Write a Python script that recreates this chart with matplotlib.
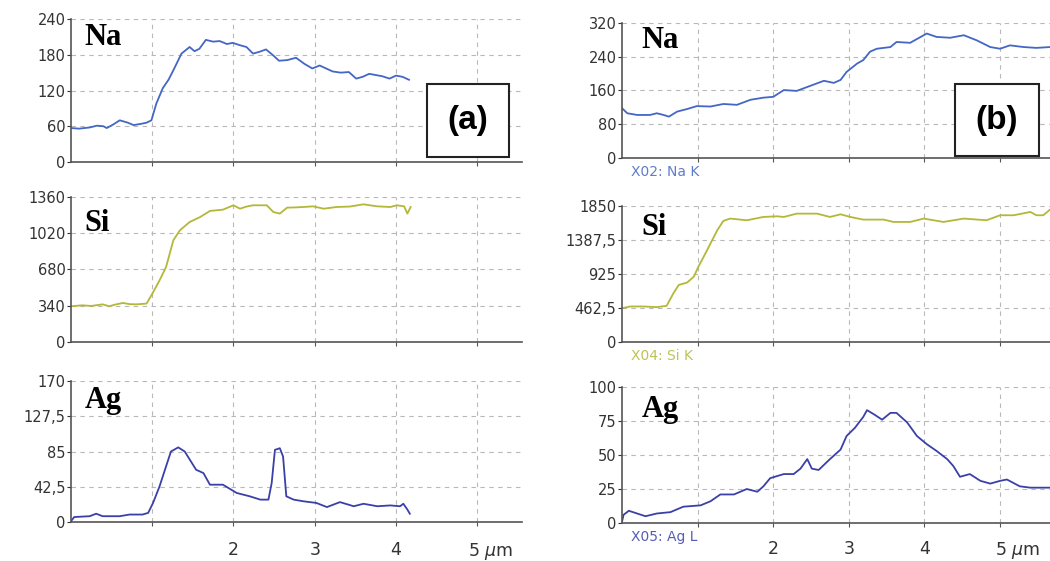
import matplotlib.pyplot as plt
import matplotlib.transforms as mtransforms

# ---- data ----
na_a_x = [0, 0.10, 0.23, 0.32, 0.40, 0.44, 0.52, 0.60, 0.70, 0.77, 0.86, 0.93, 0.99, 1.05, 1.13,
          1.20, 1.26, 1.36, 1.46, 1.52, 1.58, 1.66, 1.75, 1.83, 1.92, 1.99, 2.08, 2.16, 2.24, 2.32,
          2.40, 2.48, 2.56, 2.66, 2.77, 2.87, 2.97, 3.06, 3.14, 3.22, 3.32, 3.42, 3.51, 3.59, 3.67,
          3.75, 3.83, 3.92, 4.0, 4.08, 4.16]
na_a_y = [57, 56, 58, 61, 60, 57, 63, 70, 66, 62, 64, 66, 70, 98, 124,
          138, 154, 182, 193, 186, 190, 205, 202, 203, 198, 200, 196, 193, 182, 185,
          189, 180, 170, 171, 175, 165, 157, 162, 157, 152, 150, 151, 140, 143, 148,
          146, 144, 140, 145, 143, 138]

si_a_x = [0, 0.14, 0.25, 0.39, 0.47, 0.55, 0.64, 0.72, 0.80, 0.93, 0.99, 1.09, 1.17, 1.26, 1.34,
          1.46, 1.59, 1.71, 1.87, 2.0, 2.08, 2.16, 2.24, 2.41, 2.49, 2.57, 2.66, 2.76, 2.86, 2.98,
          3.11, 3.27, 3.43, 3.60, 3.77, 3.93, 4.01, 4.10, 4.14, 4.18]
si_a_y = [335, 344, 338, 353, 335, 352, 366, 355, 353, 360, 438, 578, 703, 954, 1047,
          1125, 1172, 1229, 1241, 1282, 1250, 1270, 1282, 1282, 1219, 1204, 1260, 1262, 1266, 1272,
          1250, 1266, 1270, 1291, 1272, 1266, 1282, 1272, 1204, 1266]

ag_a_x = [0, 0.04, 0.23, 0.31, 0.39, 0.60, 0.72, 0.88, 0.95, 1.01, 1.09, 1.17, 1.23, 1.32, 1.40,
          1.54, 1.63, 1.71, 1.87, 2.04, 2.20, 2.33, 2.43, 2.47, 2.51, 2.57, 2.61, 2.65, 2.74, 2.86,
          3.02, 3.15, 3.31, 3.48, 3.60, 3.77, 3.93, 4.05, 4.09, 4.14, 4.17]
ag_a_y = [1, 6, 7, 10, 7, 7, 9, 9, 11, 23, 43, 67, 85, 90, 85,
          63, 59, 45, 45, 35, 31, 27, 27, 47, 87, 89, 79, 31, 27, 25,
          23, 18, 24, 19, 22, 19, 20, 19, 22, 15, 10]

na_b_x = [0, 0.07, 0.20, 0.37, 0.46, 0.55, 0.62, 0.73, 0.86, 0.99, 1.17, 1.34, 1.52, 1.70, 1.87,
          2.0, 2.14, 2.31, 2.49, 2.67, 2.80, 2.89, 2.97, 3.11, 3.19, 3.28, 3.37, 3.55, 3.63, 3.81,
          4.03, 4.16, 4.34, 4.52, 4.69, 4.87, 5.0, 5.13, 5.31, 5.48, 5.66]
na_b_y = [118, 106, 102, 102, 106, 102, 98, 110, 116, 123, 122, 128, 126, 138, 143,
          145, 161, 159, 171, 183, 178, 185, 204, 224, 232, 252, 259, 263, 275, 273,
          295, 287, 285, 291, 279, 263, 259, 267, 263, 261, 263]

si_b_x = [0, 0.11, 0.29, 0.46, 0.59, 0.68, 0.75, 0.86, 0.95, 1.01, 1.08, 1.17, 1.26, 1.34, 1.43,
          1.65, 1.87, 2.05, 2.14, 2.31, 2.58, 2.75, 2.89, 3.02, 3.19, 3.46, 3.59, 3.81, 3.99, 4.25,
          4.52, 4.82, 5.0, 5.18, 5.40, 5.48, 5.57, 5.66]
si_b_y = [460, 483, 483, 474, 492, 663, 776, 808, 889, 1024, 1160, 1340, 1521, 1647, 1679,
          1656, 1701, 1710, 1701, 1746, 1746, 1701, 1737, 1701, 1665, 1665, 1633, 1633, 1679, 1633,
          1679, 1656, 1724, 1724, 1769, 1724, 1724, 1800]

ag_b_x = [0, 0.02, 0.09, 0.20, 0.31, 0.46, 0.64, 0.81, 1.04, 1.17, 1.30, 1.48, 1.65, 1.79, 1.87,
          1.96, 2.14, 2.27, 2.36, 2.45, 2.51, 2.60, 2.75, 2.89, 2.97, 3.08, 3.19, 3.24, 3.33, 3.44,
          3.55, 3.63, 3.77, 3.90, 4.03, 4.16, 4.30, 4.38, 4.47, 4.60, 4.74, 4.87, 5.0, 5.09, 5.26,
          5.40, 5.53, 5.66]
ag_b_y = [1, 6, 9, 7, 5, 7, 8, 12, 13, 16, 21, 21, 25, 23, 27,
          33, 36, 36, 40, 47, 40, 39, 47, 54, 64, 70, 78, 83, 80, 76,
          81, 81, 74, 64, 58, 53, 47, 42, 34, 36, 31, 29, 31, 32, 27,
          26, 26, 26]

left_ticks = [(0, 60, 120, 180, 240), (0, 340, 680, 1020, 1360), (0, 42.5, 85, 127.5, 170)]
left_ticklabels = [["0", "60", "120", "180", "240"], ["0", "340", "680", "1020", "1360"],
                   ["0", "42,5", "85", "127,5", "170"]]
right_ticks = [(0, 80, 160, 240, 320), (0, 462.5, 925, 1387.5, 1850), (0, 25, 50, 75, 100)]
right_ticklabels = [["0", "80", "160", "240", "320"], ["0", "462,5", "925", "1387,5", "1850"],
                    ["0", "25", "50", "75", "100"]]
elements = ["Na", "Si", "Ag"]
xticks = [1, 2, 3, 4, 5]
xticklabels = ["", "2", "3", "4", "5 $\\mu$m"]
spectral_lines = ["X02: Na K", "X04: Si K", "X05: Ag L"]

NA_BLUE = "#4466c4"
SI_YELLOW = "#b3b838"
AG_BLUE = "#3a40a8"
colors = [NA_BLUE, SI_YELLOW, AG_BLUE]

fig = plt.figure(figsize=(10.5, 5.61), dpi=100)

left_rects = [(0.0676, 0.7112, 0.4295, 0.2549),
              (0.0676, 0.3904, 0.4295, 0.2585),
              (0.0676, 0.0695, 0.4295, 0.2513)]
right_rects = [(0.5924, 0.7184, 0.4076, 0.2406),
               (0.5924, 0.3904, 0.4076, 0.2424),
               (0.5924, 0.0677, 0.4076, 0.2424)]
left_label_y = [0.975, 0.915, 0.965]
right_label_y = [0.98, 0.945, 0.945]

left_data = [(na_a_x, na_a_y), (si_a_x, si_a_y), (ag_a_x, ag_a_y)]
right_data = [(na_b_x, na_b_y), (si_b_x, si_b_y), (ag_b_x, ag_b_y)]


def style_axes(ax, xmax, yticks, ylabels, bottom, label_pad, shift_px):
    ax.set_xlim(0, xmax)
    ax.set_ylim(0, yticks[-1])
    ax.set_yticks(yticks)
    ax.set_yticklabels(ylabels)
    ax.set_xticks(xticks)
    for s in ["top", "right"]:
        ax.spines[s].set_visible(False)
    for s in ["left", "bottom"]:
        ax.spines[s].set_color("#555555")
        ax.spines[s].set_linewidth(1.2)
    ax.grid(True, linestyle=(0, (4, 4)), color="#b8b8b8", linewidth=0.8)
    ax.tick_params(axis="y", length=3, pad=1, labelsize=10.5, colors="#333333")
    ax.tick_params(axis="x", length=3, colors="#555555", labelcolor="#333333",
                   labelsize=12.5, pad=label_pad)
    if bottom:
        ax.set_xticklabels(xticklabels)
        lbl = ax.get_xticklabels()[-1]
        lbl.set_transform(lbl.get_transform() +
                          mtransforms.ScaledTranslation(shift_px / 100, 0, fig.dpi_scale_trans))
    else:
        ax.set_xticklabels([])


for i in range(3):
    ax = fig.add_axes(left_rects[i])
    x, y = left_data[i]
    ax.plot(x, y, color=colors[i], linewidth=1.3)
    style_axes(ax, 5.55, left_ticks[i], left_ticklabels[i], i == 2, 10.5, 13)
    ax.text(0.03, left_label_y[i], elements[i], transform=ax.transAxes, fontsize=22,
            fontweight="bold", family="Liberation Serif", va="top", ha="left")
    if i == 0:
        ax.text(0.88, 0.29, "(a)", transform=ax.transAxes, fontsize=24, fontweight="bold",
                family="Liberation Sans", ha="center", va="center",
                bbox=dict(boxstyle="square,pad=0.62", facecolor="white", edgecolor="#222222",
                          linewidth=1.5))

for i in range(3):
    ax = fig.add_axes(right_rects[i])
    x, y = right_data[i]
    ax.plot(x, y, color=colors[i], linewidth=1.3)
    style_axes(ax, 5.66, right_ticks[i], right_ticklabels[i], i == 2, 9, 17)
    ax.text(0.045, right_label_y[i], elements[i], transform=ax.transAxes, fontsize=22,
            fontweight="bold", family="Liberation Serif", va="top", ha="left")
    ax.text(0.02, -0.055, spectral_lines[i], transform=ax.transAxes, fontsize=10,
            color=colors[i], va="top", ha="left", alpha=0.85)
    if i == 0:
        ax.text(0.876, 0.28, "(b)", transform=ax.transAxes, fontsize=24, fontweight="bold",
                family="Liberation Sans", ha="center", va="center",
                bbox=dict(boxstyle="square,pad=0.62", facecolor="white", edgecolor="#222222",
                          linewidth=1.5))

fig.savefig("out.png", dpi=100)
